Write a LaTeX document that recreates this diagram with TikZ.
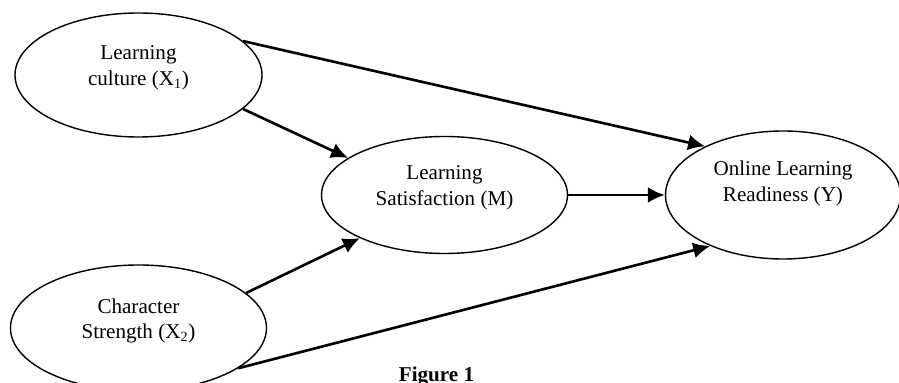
\documentclass[tikz,border=0pt]{standalone}
\usepackage{fontspec}
\setmainfont{Liberation Serif}
\usepackage{tikz}
\usetikzlibrary{shapes,arrows.meta}
\usetikzlibrary{positioning}
\tikzstyle{var} = [draw, ellipse, line width=0.8pt, align=center,
    font=\fontsize{12}{14.5}\selectfont, text depth=0.38cm]
\tikzstyle{effect} = [-{Latex[length=3.4mm,width=3.2mm]}, line width=1.5pt]

\begin{document}
\begin{tikzpicture}[node distance = 3cm, on grid]
  \useasboundingbox (-2.77,-6.16) rectangle (15.21,1.50);
  \node [var, minimum width=4.94cm, minimum height=2.48cm]
  (x1) {Learning\\culture (X\textsubscript{1})};
  \node [var, minimum width=4.92cm, minimum height=2.34cm, below right=2.4cm and 6.12cm of x1] (m) {Learning\\Satisfaction (M)};
  \node [var, minimum width=4.7cm, minimum height=2.56cm, right=6.77cm of m, text depth=0.55cm] (y) {Online Learning\\Readiness (Y)};
  \node [var, minimum width=5.12cm, minimum height=2.52cm, below=5.06cm of x1] (x2) {Character\\Strength (X\textsubscript{2})};
  \node [below=3.64cm of m, xshift=-0.16cm, font=\fontsize{12}{14.5}\selectfont\bfseries] (fig) {Figure 1};
  \draw [effect] (x1.18) -- (y.148);
  \draw [effect] (x1.-18) -- (m.159);
  \draw [effect] (m) -- (y);
  \draw [effect] (x2.18) -- (m.207);
  \draw [effect] (x2.-22) -- (y.215);
\end{tikzpicture}
\end{document}
